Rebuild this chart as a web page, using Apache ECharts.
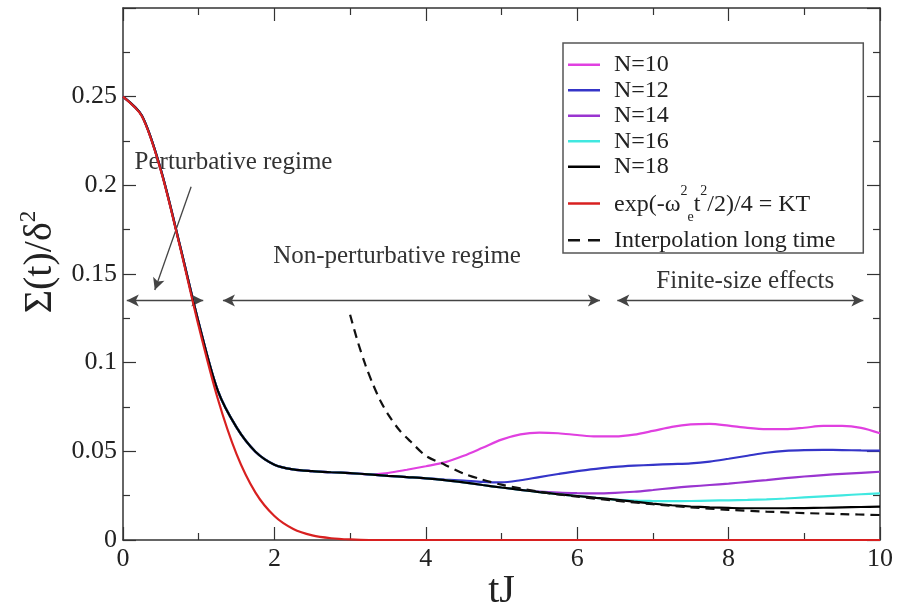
<!DOCTYPE html>
<html><head><meta charset="utf-8">
<script src="https://cdn.jsdelivr.net/npm/echarts@6/dist/echarts.min.js"></script>
<style>html,body{margin:0;padding:0;background:#fff;}#c{width:897px;height:608px;}</style>
</head><body><div id="c"></div>
<script>
// time grid (tJ)
const tGrid = [0,0.25,0.5,0.75,1,1.25,1.5,1.75,2,2.25,2.5,2.75,3,3.25,3.5,3.75,4,4.25,4.5,4.75,5,5.25,5.5,5.75,6,6.25,6.5,6.75,7,7.25,7.5,7.75,8,8.25,8.5,8.75,9,9.25,9.5,9.75,10];
// common early decay of all N curves (t = 0 .. 3.25)
const sharedEarly = [0.25,0.2392,0.2088,0.1665,0.1225,0.0845,0.0635,0.0498,0.0425,0.0398,0.0388,0.0382,0.0377,0.0370];
// tails (t = 3.5 .. 10)
const n10Tail = [0.0378,0.0396,0.0416,0.0438,0.0475,0.0520,0.0566,0.0596,0.0606,0.0602,0.0592,0.0584,0.0584,0.0594,0.0615,0.0638,0.0652,0.0655,0.0645,0.0632,0.0625,0.0625,0.0633,0.0643,0.0643,0.0632,0.0602];
const n12Tail = [0.0362,0.0355,0.0348,0.0341,0.0335,0.0328,0.0325,0.0337,0.0355,0.0372,0.0388,0.0401,0.0412,0.0419,0.0424,0.0428,0.0432,0.0442,0.0458,0.0475,0.0492,0.0503,0.0507,0.0508,0.0507,0.0505,0.0504];
const n14Tail = [0.0362,0.0355,0.0348,0.0338,0.0325,0.0310,0.0296,0.0283,0.0273,0.0267,0.0264,0.0263,0.0266,0.0272,0.0282,0.0293,0.0302,0.0310,0.0318,0.0328,0.0338,0.0349,0.0358,0.0366,0.0373,0.0379,0.0385];
const n16Tail = [0.0362,0.0355,0.0348,0.0338,0.0325,0.0310,0.0296,0.0283,0.0270,0.0258,0.0248,0.0238,0.0228,0.0222,0.0220,0.0219,0.0220,0.0222,0.0224,0.0226,0.0229,0.0234,0.0240,0.0246,0.0252,0.0258,0.0263];
const n18Tail = [0.0362,0.0355,0.0348,0.0338,0.0325,0.0310,0.0296,0.0283,0.0270,0.0258,0.0248,0.0238,0.0228,0.0216,0.0205,0.0196,0.0189,0.0184,0.0181,0.0179,0.0179,0.0179,0.0180,0.0182,0.0184,0.0186,0.0188];
// Gaussian short-time curve (all t)
const expVals = [0.25,0.2389,0.2083,0.1658,0.1205,0.0799,0.0484,0.0267,0.0135,0.0062,0.0026,0.0010,0.0003,0,0,0,0,0,0,0,0,0,0,0,0,0,0,0,0,0,0,0,0,0,0,0,0,0,0,0,0];
// long-time interpolation (dashed)
const tDash = [3.0,3.1,3.2,3.3,3.4,3.5,3.65,3.8,4.0,4.25,4.5,4.75,5.0,5.5,6.0,6.5,7.0,7.5,8.0,8.5,9.0,9.5,10.0];
const dashVals = [0.127,0.112,0.099,0.088,0.0785,0.071,0.062,0.0555,0.0475,0.0425,0.0375,0.0340,0.0312,0.0272,0.0245,0.0222,0.0202,0.0184,0.0170,0.0160,0.0152,0.0146,0.0141];

const seriesNames = ['N=10','N=12','N=14','N=16','N=18','exp(-ω²ₑt²/2)/4 = KT','Interpolation long time'];
const seriesColors = ['#e040e0','#3535c8','#9a35d0','#40e8e0','#000000','#d82020','#111111'];

// annotations (data coordinates)
const arrowSegments = [
  [[0.05,0.135],[1.06,0.135],'arrow','arrow'],
  [[1.32,0.135],[6.30,0.135],'arrow','arrow'],
  [[6.53,0.135],[9.78,0.135],'arrow','arrow'],
  [[0.90,0.1992],[0.42,0.141],'none','arrow']
];
const annotationTexts = [
  ['Perturbative regime',1.46,0.2128],
  ['Non-perturbative regime',3.62,0.1597],
  ['Finite-size effects',8.22,0.1456]
];

const FONT = 'Liberation Serif, Times New Roman, serif';
function pairs(xs, ys){ return xs.map((x,i)=>[x, ys[i]]); }
const seriesData = [
  pairs(tGrid, sharedEarly.concat(n10Tail)),
  pairs(tGrid, sharedEarly.concat(n12Tail)),
  pairs(tGrid, sharedEarly.concat(n14Tail)),
  pairs(tGrid, sharedEarly.concat(n16Tail)),
  pairs(tGrid, sharedEarly.concat(n18Tail)),
  pairs(tGrid, expVals),
  pairs(tDash, dashVals)
];

const series = seriesNames.map((name,i)=>({
  name, type:'line', data: seriesData[i], symbol:'none', smooth:0.3, clip:true,
  color: seriesColors[i],
  itemStyle:{color: seriesColors[i]},
  lineStyle:{ color: seriesColors[i], width: 2.2, type: i===6 ? [9,6] : 'solid' },
  z: 3 + i
}));
series.push({
  name:'_annot', type:'line', data:[], symbol:'none', silent:true, z:10,
  markLine:{
    silent:true, animation:false, symbolSize:[9,12], label:{show:false},
    lineStyle:{color:'#444', width:1.3, type:'solid'},
    data: arrowSegments.map(a=>[{coord:a[0], symbol:a[2]},{coord:a[1], symbol:a[3]}])
  },
  markPoint:{
    silent:true, animation:false, symbol:'circle', symbolSize:0,
    data: annotationTexts.map(a=>({coord:[a[1],a[2]], value:a[0],
      label:{show:true, position:'inside', align:'center', verticalAlign:'middle', formatter:a[0], fontFamily:FONT, fontSize:25, color:'#333'}}))
  }
});

const axisLineStyle = {color:'#333', width:1.5};
function xAx(pos, labels){
  return {type:'value', min:0, max:10, interval:2, position:pos,
    axisLine:{show:true, onZero:false, lineStyle:axisLineStyle},
    axisTick:{show:true, inside:true, length:13, lineStyle:{color:'#333', width:1.2}},
    minorTick:{show:true, splitNumber:2, length:7, lineStyle:{color:'#333', width:1.2}},
    splitLine:{show:false},
    axisLabel:{show:labels, fontFamily:FONT, fontSize:26, color:'#222', margin:6},
    name: labels ? 'tJ' : '', nameLocation:'middle', nameGap:31, nameMoveOverlap:false,
    nameTextStyle:{fontFamily:FONT, fontSize:40, color:'#222'}};
}
function yAx(pos, labels){
  return {type:'value', min:0, max:0.3, interval:0.05, position:pos,
    axisLine:{show:true, onZero:false, lineStyle:axisLineStyle},
    axisTick:{show:true, inside:true, length:13, lineStyle:{color:'#333', width:1.2}},
    minorTick:{show:true, splitNumber:2, length:7, lineStyle:{color:'#333', width:1.2}},
    splitLine:{show:false},
    axisLabel:{show:labels, fontFamily:FONT, fontSize:26, color:'#222', margin:6,
      formatter: v => v > 0.29 ? '' : String(+v.toFixed(2))},
    name: labels ? '{a|Σ(t)/δ}{s|2}' : '', nameLocation:'middle', nameGap:55, nameRotate:90,
    nameTextStyle:{fontFamily:FONT, fontSize:40, color:'#222', padding:[0,0,0,24],
      rich:{a:{fontFamily:FONT, fontSize:40, color:'#222', lineHeight:46},
            s:{fontFamily:FONT, fontSize:23, color:'#222', lineHeight:22, verticalAlign:'top'}}}};
}

const legendIcons = seriesNames.map((n,i)=> i===6
  ? 'path://M0,0H12V2.5H0Z M20,0H32V2.5H20Z'
  : 'path://M0,0H32V2.5H0Z');
const legendRich = {
  m:{fontFamily:FONT, fontSize:24, color:'#222', lineHeight:40},
  sup:{fontFamily:FONT, fontSize:14, color:'#222', verticalAlign:'top'},
  sub:{fontFamily:FONT, fontSize:14, color:'#222', verticalAlign:'bottom'}
};

const chart = echarts.init(document.getElementById('c'), null, {renderer:'canvas'});
chart.setOption({
  animation:false,
  backgroundColor:'#fff',
  grid:{left:123, right:17, top:8, bottom:68, containLabel:false, outerBoundsMode:'none'},
  xAxis:[xAx('bottom', true), xAx('top', false)],
  yAxis:[yAx('left', true), yAx('right', false)],
  legend:{
    orient:'vertical', left:563, top:43, padding:[9,28,0,5], itemGap:0,
    itemWidth:32, itemHeight:2.5, borderColor:'#555', borderWidth:1.5, backgroundColor:'#fff',
    data: seriesNames.map((n,i)=> i===5
      ? {name:n, icon:legendIcons[i], textStyle:{fontFamily:FONT, fontSize:24, color:'#222', padding:[5,0,3,9], rich:legendRich}}
      : {name:n, icon:legendIcons[i]}),
    selectedMode:false,
    textStyle:{fontFamily:FONT, fontSize:24, color:'#222', lineHeight:25.5, padding:[0,0,0,9], rich:legendRich},
    formatter: name => name === seriesNames[5]
      ? '{m|exp(-ω}{sup|2}{sub|e}{m|t}{sup|2}{m|/2)/4 = KT}' : name
  },
  series
});
</script>
</body></html>
